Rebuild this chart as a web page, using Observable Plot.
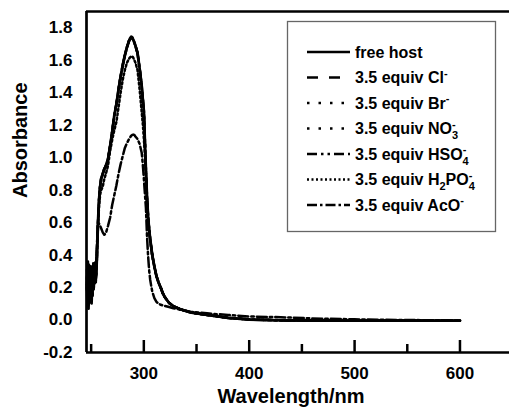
<!DOCTYPE html>
<html><head><meta charset="utf-8">
<script src="https://cdn.jsdelivr.net/npm/d3@7"></script>
<script src="https://cdn.jsdelivr.net/npm/@observablehq/plot@0.6"></script>
<style>
html,body{margin:0;padding:0;background:#fff;overflow:hidden}
#chart{position:relative;width:509px;height:413px}
</style></head><body><div id="chart"></div>
<script>
// Wavelength grid (nm)
const wavelengths = [246,246.5,247,247.5,248,248.5,249,249.5,250,250.5,251,251.5,252,252.5,253,253.5,254,254.5,255,255.5,
  256.5,257.5,258.5,259.5,261,262.5,264,266,268,270,272,274,276,278,280,282,284,286,287,288,289,290,291,292,294,296,298,299,300,301,302,303,304,305,306,307,308,310,312,314,316,318,320,324,328,335,345,360,380,400,430,460,500,550,600];

const absHost = [0.22,0.10,0.30,0.07,0.28,0.14,0.33,0.16,0.27,0.12,0.30,0.18,0.32,0.20,0.33,0.24,0.30,0.26,0.30,0.40,
  0.60,0.74,0.82,0.87,0.90,0.93,0.95,0.99,1.07,1.16,1.26,1.33,1.42,1.50,1.57,1.63,1.68,1.72,1.735,1.745,1.74,1.725,1.71,1.69,1.645,1.55,1.44,1.36,1.29,1.10,0.92,0.76,0.64,0.56,0.50,0.45,0.40,0.33,0.27,0.23,0.20,0.165,0.14,0.105,0.085,0.065,0.046,0.031,0.013,0.003,-0.002,-0.003,-0.004,-0.004,-0.004];
const absCl = [0.25,0.12,0.27,0.09,0.31,0.16,0.29,0.13,0.30,0.15,0.27,0.20,0.29,0.22,0.31,0.21,0.33,0.24,0.31,0.38,
  0.59,0.73,0.82,0.87,0.90,0.93,0.95,0.99,1.07,1.16,1.26,1.33,1.42,1.50,1.57,1.63,1.68,1.72,1.732,1.74,1.735,1.722,1.708,1.69,1.645,1.55,1.44,1.36,1.29,1.10,0.92,0.76,0.64,0.56,0.50,0.45,0.40,0.33,0.27,0.23,0.20,0.165,0.14,0.105,0.085,0.066,0.047,0.031,0.014,0.004,-0.001,-0.003,-0.004,-0.004,-0.004];
const absBr = [0.20,0.14,0.32,0.11,0.26,0.18,0.30,0.12,0.29,0.17,0.31,0.15,0.28,0.24,0.30,0.22,0.31,0.27,0.33,0.39,
  0.60,0.74,0.82,0.87,0.90,0.93,0.95,0.99,1.07,1.16,1.26,1.33,1.42,1.50,1.57,1.63,1.68,1.72,1.733,1.742,1.738,1.724,1.71,1.69,1.645,1.55,1.44,1.36,1.29,1.10,0.92,0.76,0.64,0.56,0.50,0.45,0.40,0.33,0.27,0.23,0.20,0.165,0.14,0.105,0.085,0.065,0.046,0.031,0.013,0.003,-0.002,-0.003,-0.004,-0.004,-0.004];
const absNO3 = [0.27,0.09,0.25,0.13,0.29,0.12,0.27,0.18,0.25,0.14,0.33,0.19,0.30,0.21,0.28,0.25,0.32,0.23,0.32,0.41,
  0.60,0.74,0.82,0.87,0.90,0.93,0.95,0.99,1.07,1.16,1.26,1.33,1.42,1.50,1.57,1.63,1.68,1.72,1.734,1.743,1.739,1.724,1.71,1.69,1.645,1.55,1.44,1.36,1.29,1.10,0.92,0.76,0.64,0.56,0.50,0.45,0.40,0.33,0.27,0.23,0.20,0.165,0.14,0.105,0.085,0.065,0.046,0.031,0.013,0.003,-0.002,-0.003,-0.004,-0.004,-0.004];
const absHSO4 = [0.24,0.08,0.31,0.12,0.27,0.10,0.31,0.14,0.26,0.09,0.28,0.16,0.30,0.19,0.31,0.23,0.29,0.25,0.31,0.39,
  0.60,0.74,0.82,0.87,0.90,0.93,0.95,0.99,1.07,1.16,1.26,1.33,1.42,1.50,1.57,1.63,1.68,1.72,1.733,1.741,1.737,1.723,1.709,1.69,1.645,1.55,1.44,1.36,1.29,1.10,0.92,0.76,0.64,0.56,0.50,0.45,0.40,0.33,0.27,0.23,0.20,0.165,0.14,0.105,0.085,0.065,0.046,0.031,0.013,0.003,-0.002,-0.003,-0.004,-0.004,-0.004];
const absH2PO4 = [0.26,0.13,0.36,0.10,0.33,0.15,0.31,0.19,0.28,0.16,0.30,0.21,0.31,0.23,0.33,0.26,0.34,0.29,0.35,0.42,
  0.57,0.70,0.77,0.80,0.82,0.87,0.90,0.95,1.04,1.11,1.17,1.22,1.31,1.40,1.48,1.54,1.585,1.61,1.618,1.623,1.625,1.615,1.60,1.585,1.54,1.42,1.28,1.21,1.12,1.02,0.88,0.74,0.63,0.555,0.495,0.445,0.395,0.33,0.27,0.23,0.20,0.165,0.14,0.105,0.085,0.066,0.047,0.032,0.014,0.004,-0.001,-0.003,-0.004,-0.004,-0.004];
const absAcO = [0.31,0.13,0.35,0.10,0.34,0.16,0.30,0.19,0.33,0.15,0.30,0.24,0.35,0.25,0.31,0.28,0.36,0.30,0.38,0.46,
  0.60,0.595,0.58,0.565,0.54,0.525,0.535,0.58,0.63,0.71,0.77,0.83,0.90,0.96,1.01,1.06,1.09,1.115,1.125,1.135,1.14,1.142,1.14,1.13,1.115,1.085,1.03,0.96,0.874,0.78,0.69,0.52,0.40,0.31,0.25,0.21,0.175,0.135,0.112,0.100,0.094,0.090,0.087,0.080,0.073,0.063,0.050,0.041,0.031,0.022,0.017,0.010,0.004,0.000,-0.003];

const seriesNames = ["free host","3.5 equiv Cl-","3.5 equiv Br-","3.5 equiv NO3-","3.5 equiv HSO4-","3.5 equiv H2PO4-","3.5 equiv AcO-"];
const seriesValues = [absHost, absCl, absBr, absNO3, absHSO4, absH2PO4, absAcO];
// legend label pieces: [text, role]
const legendLabels = [
  [["free host",""]],
  [["3.5 equiv Cl",""],["-","sup"]],
  [["3.5 equiv Br",""],["-","sup"]],
  [["3.5 equiv NO",""],["3","sub"],["-","supAfterSub"]],
  [["3.5 equiv HSO",""],["4","sub"],["-","supAfterSub"]],
  [["3.5 equiv H",""],["2","sub"],["PO","back"],["4","sub"],["-","supAfterSub"]],
  [["3.5 equiv AcO",""],["-","sup"]]
];
const dashes = [null,"11,11","2.5,9","2.5,9","10,4,2.5,4,2.5,4","2,2.5","10,3,2.5,3"];
const yTicks = [-0.2,0,0.2,0.4,0.6,0.8,1.0,1.2,1.4,1.6,1.8];
const xTicksMajor = [300,400,500,600];
const xTicksMinor = [250,350,450,550];
const xTitle = "Wavelength/nm";
const yTitle = "Absorbance";

const W = 509, H = 413, mT = 11, mB = 61, mL = 86, mR = 0;
const xDomain = [245.6, 647], yDomain = [-0.2, 1.9];
const pxPerUnit = (H - mT - mB) / (yDomain[1] - yDomain[0]);
const font = "'Liberation Sans', Arial, Helvetica, sans-serif";

const rows = [];
seriesNames.forEach((s, i) => wavelengths.forEach((w, j) => rows.push({series: s, wl: w, a: seriesValues[i][j]})));

const drawOrder = [6,5,4,1,2,3,0];
const lineMarks = drawOrder.map(i => Plot.line(rows.filter(r => r.series === seriesNames[i]), {
  x: "wl", y: "a", stroke: "#000", strokeWidth: i === 0 ? 2.8 : 2.5,
  strokeDasharray: dashes[i] || undefined, strokeLinejoin: "round"
}));

const chart = Plot.plot({
  width: W, height: H, marginTop: mT, marginBottom: mB, marginLeft: mL, marginRight: mR,
  x: {domain: xDomain}, y: {domain: yDomain},
  style: {fontFamily: font, fontWeight: "bold", fontSize: "17px", color: "#000", background: "#fff"},
  marks: [
    ...lineMarks,
    Plot.ruleX(xTicksMajor, {y1: yDomain[0], y2: yDomain[0] + 12 / pxPerUnit, strokeWidth: 2.5}),
    Plot.ruleX(xTicksMinor, {y1: yDomain[0], y2: yDomain[0] + 8 / pxPerUnit, strokeWidth: 2.5}),
    Plot.ruleY([yDomain[0]], {strokeWidth: 2.7}),
    Plot.ruleY([yDomain[1]], {strokeWidth: 2.7}),
    Plot.ruleX([xDomain[0]], {strokeWidth: 2.7}),
    Plot.axisX({ticks: xTicksMajor, tickSize: 0, tickPadding: 14, label: null, fontSize: 17}),
    Plot.axisY({ticks: yTicks, tickSize: 0, tickPadding: 14, label: null, fontSize: 17, tickFormat: d => d.toFixed(1)}),
    Plot.text([xTitle], {text: d => d, frameAnchor: "bottom", dy: 50, dx: -7, fontSize: 20, fontWeight: "bold"}),
    Plot.text([yTitle], {text: d => d, frameAnchor: "left", rotate: -90, dx: -66, dy: 16, fontSize: 20, fontWeight: "bold"})
  ]
});
document.getElementById("chart").appendChild(chart);

// legend overlay
const lg = d3.select("#chart").append("svg")
  .attr("width", W).attr("height", H)
  .style("position", "absolute").style("left", "0px").style("top", "0px")
  .style("font-family", font).style("font-weight", "bold");
lg.append("rect").attr("x", 287.5).attr("y", 21.5).attr("width", 208).attr("height", 210)
  .attr("fill", "#fff").attr("stroke", "#666").attr("stroke-width", 1.3);
legendLabels.forEach((parts, i) => {
  const y = 52 + i * 25.5;
  const ln = lg.append("line").attr("x1", 307).attr("x2", 350).attr("y1", y).attr("y2", y)
    .attr("stroke", "#000").attr("stroke-width", 2.6);
  if (dashes[i]) ln.attr("stroke-dasharray", dashes[i]);
  const t = lg.append("text").attr("x", 355).attr("y", y + 5.8).attr("font-size", 16).attr("fill", "#000");
  parts.forEach(([txt, role]) => {
    const sp = t.append("tspan").text(txt);
    if (role === "sup") sp.attr("font-size", 11).attr("dy", -6.5);
    if (role === "sub") sp.attr("font-size", 11).attr("dy", 5);
    if (role === "back") sp.attr("dy", -5);
    if (role === "supAfterSub") sp.attr("font-size", 11).attr("dx", -6).attr("dy", -11.5);
  });
});
</script></body></html>
